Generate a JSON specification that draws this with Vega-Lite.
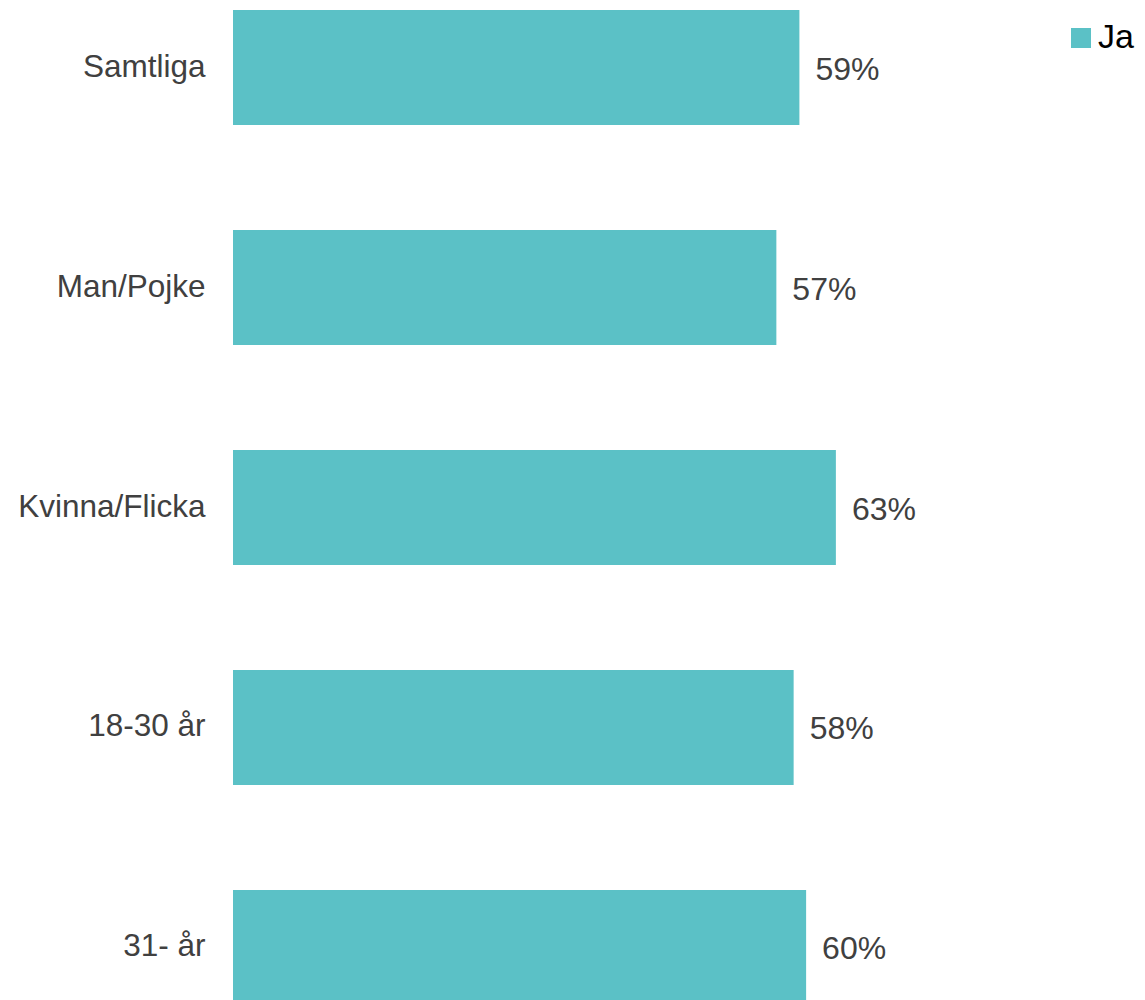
{
  "$schema": "https://vega.github.io/schema/vega-lite/v6.json",
  "autosize": "none",
  "padding": {"left": 233, "top": 10, "right": 0, "bottom": 0},
  "width": 912,
  "height": 995,
  "background": "white",
  "config": {
    "view": {"stroke": null},
    "font": "Liberation Sans"
  },
  "data": {
    "values": [
      {"group": "Samtliga", "series": "Ja", "value": 0.590},
      {"group": "Man/Pojke", "series": "Ja", "value": 0.566},
      {"group": "Kvinna/Flicka", "series": "Ja", "value": 0.628},
      {"group": "18-30 år", "series": "Ja", "value": 0.584},
      {"group": "31- år", "series": "Ja", "value": 0.597}
    ]
  },
  "encoding": {
    "y": {
      "field": "group",
      "type": "nominal",
      "sort": null,
      "scale": {"paddingInner": 0.477, "paddingOuter": 0},
      "axis": {
        "title": null,
        "ticks": false,
        "tickSize": 0,
        "domain": false,
        "grid": false,
        "labelPadding": 28,
        "labelLimit": 400,
        "labelFontSize": 31.5,
        "labelColor": "#404040",
        "labelFont": "Liberation Sans"
      }
    },
    "x": {
      "field": "value",
      "type": "quantitative",
      "scale": {"domain": [0, 0.95], "nice": false},
      "axis": null
    }
  },
  "layer": [
    {
      "mark": {"type": "bar"},
      "encoding": {
        "color": {
          "field": "series",
          "type": "nominal",
          "scale": {"range": ["#5bc1c6"]},
          "legend": {
            "title": null,
            "orient": "none",
            "legendX": 831,
            "legendY": 11,
            "symbolType": "square",
            "symbolSize": 400,
            "symbolStrokeWidth": 0,
            "labelFontSize": 34,
            "labelColor": "#000000",
            "labelFont": "Liberation Sans",
            "labelOffset": 0
          }
        }
      }
    },
    {
      "mark": {
        "type": "text",
        "align": "left",
        "baseline": "middle",
        "dx": 16,
        "dy": 2,
        "fontSize": 32,
        "color": "#404040",
        "font": "Liberation Sans"
      },
      "encoding": {
        "text": {"field": "value", "type": "quantitative", "format": ".0%"}
      }
    }
  ]
}
